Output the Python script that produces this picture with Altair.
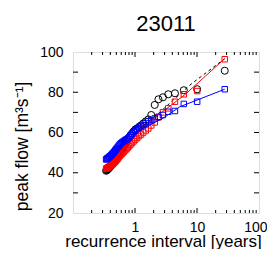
import altair as alt
import pandas as pd

# recurrence interval [years] for each rank (shared by all series)
T = [28.0, 10.06, 6.13, 4.41, 3.44, 2.82, 2.39, 2.08, 1.83, 1.64,
     1.49, 1.36, 1.25, 1.16, 1.08, 1.01, 0.948, 0.894, 0.846, 0.803,
     0.764, 0.728, 0.696, 0.666, 0.639, 0.614, 0.591, 0.570, 0.550, 0.531,
     0.514, 0.497, 0.482, 0.467, 0.454, 0.441, 0.429, 0.417, 0.406, 0.395,
     0.385, 0.376, 0.367, 0.358, 0.350, 0.342]

obs = [90.7, 81.5, 81.0, 79.5, 79.0, 77.5, 76.5, 73.7, 68.7, 66.5,
       65.5, 64.5, 63.5, 62.8, 62.0, 61.5, 60.5, 59.5, 58.5, 57.5,
       56.5, 55.5, 54.5, 53.5, 52.5, 51.8, 51.0, 50.2, 49.5, 48.8,
       48.0, 47.3, 46.6, 46.0, 45.4, 44.8, 44.3, 43.8, 43.3, 42.9,
       42.5, 42.1, 41.8, 41.5, 41.2, 41.0]

red = [96.4, 80.6, 79.0, 75.3, 72.0, 70.0, 67.5, 65.0, 63.5, 62.0,
       61.0, 60.0, 59.0, 58.2, 57.3, 56.5, 55.6, 54.8, 54.0, 53.2,
       52.5, 51.8, 51.2, 50.6, 50.0, 49.5, 49.0, 48.4, 47.8, 47.2,
       46.6, 46.1, 45.6, 45.2, 44.8, 44.4, 44.1, 43.8, 43.5, 43.2,
       43.0, 42.8, 42.6, 42.4, 42.2, 42.0]

blue = [81.5, 75.3, 74.2, 70.7, 70.3, 68.7, 67.8, 67.0, 66.2, 65.5,
        64.5, 63.6, 63.0, 62.3, 61.8, 61.0, 60.2, 59.3, 58.5, 57.6,
        57.0, 56.6, 56.2, 55.8, 55.4, 55.0, 54.6, 54.1, 53.5, 52.9,
        52.3, 51.7, 51.2, 50.6, 50.1, 49.7, 49.3, 48.9, 48.5, 48.2,
        47.9, 47.6, 47.3, 47.1, 46.9, 46.6]

# fitted curves
fit_obs_T = [1.0, 2.5, 7.7, 28.0]
fit_obs_v = [60.0, 70.0, 83.6, 96.7]
fit_red_T = [1.0, 2.7, 6.5, 28.0]
fit_red_v = [60.0, 70.0, 79.0, 96.7]
fit_blue_T = [1.0, 2.8, 5.3, 28.0]
fit_blue_v = [60.0, 67.0, 72.8, 81.5]

# tick positions
x_major = [1, 10]
x_minor = [0.2, 0.3, 0.4, 0.5, 0.6, 0.7, 0.8, 0.9,
           2, 3, 4, 5, 6, 7, 8, 9,
           20, 30, 40, 50, 60, 70, 80, 90]
y_ticks = [30, 40, 50, 60, 70, 80, 90]
x_labels = [1, 10, 100]
y_labels = [20, 40, 60, 80, 100]

W, H = 186, 161
FONT = "Liberation Sans"

xscale = alt.Scale(type="log", domain=[0.1, 100], nice=False)
yscale = alt.Scale(domain=[20, 100], nice=False, zero=False)

xaxis = alt.Axis(values=x_labels, format="d", ticks=False, domain=False, grid=False,
                 labelFlush=True, labelFlushOffset=8, labelOverlap=False, labelPadding=7,
                 labelFont=FONT, labelFontSize=14, labelColor="black",
                 title="recurrence interval [years]", titleFont=FONT,
                 titleFontSize=17, titleFontWeight="normal", titleColor="black",
                 titleX=90, titleY=33, titleBaseline="alphabetic", titleAlign="center")
yaxis = alt.Axis(values=y_labels, ticks=False, domain=False, grid=False,
                 labelFlush=False, labelOverlap=False, labelPadding=10,
                 labelFont=FONT, labelFontSize=14, labelColor="black",
                 title="peak flow [m³s⁻¹]", titleFont=FONT, titleFontSize=17.5,
                 titleFontWeight="normal", titleColor="black", titleAngle=270,
                 titleX=-46, titleY=94, titleBaseline="alphabetic", titleAlign="center")


def X(field):
    return alt.X(field, type="quantitative", scale=xscale, axis=xaxis)


def Y(field):
    return alt.Y(field, type="quantitative", scale=yscale, axis=yaxis)


df_obs = pd.DataFrame({"T": T, "v": obs})
df_red = pd.DataFrame({"T": T, "v": red})
df_blue = pd.DataFrame({"T": T, "v": blue})
fo = pd.DataFrame({"T": fit_obs_T, "v": fit_obs_v})
fr = pd.DataFrame({"T": fit_red_T, "v": fit_red_v})
fb = pd.DataFrame({"T": fit_blue_T, "v": fit_blue_v})

pts_obs = alt.Chart(df_obs).mark_point(shape="circle", filled=False, color="black",
                                       size=50, strokeWidth=1, opacity=1).encode(x=X("T"), y=Y("v"))
line_obs = alt.Chart(fo).mark_line(color="black", strokeWidth=1, strokeDash=[3, 3]).encode(x=X("T"), y=Y("v"))
pts_red = alt.Chart(df_red).mark_point(shape="square", filled=False, color="#ff0000",
                                       size=30, strokeWidth=1, opacity=1).encode(x=X("T"), y=Y("v"))
line_red = alt.Chart(fr).mark_line(color="#ff0000", strokeWidth=1).encode(x=X("T"), y=Y("v"))
pts_blue = alt.Chart(df_blue).mark_point(shape="square", filled=False, color="#0000ff",
                                         size=30, strokeWidth=1, opacity=1).encode(x=X("T"), y=Y("v"))
line_blue = alt.Chart(fb).mark_line(color="#0000ff", strokeWidth=1).encode(x=X("T"), y=Y("v"))

dxM = pd.DataFrame({"T": x_major})
dxm = pd.DataFrame({"T": x_minor})
dy = pd.DataFrame({"v": y_ticks})

tick_style = dict(color="black", strokeWidth=1)
ticks = [
    alt.Chart(dxM).mark_rule(**tick_style).encode(x=X("T"), y=alt.value(H), y2=alt.value(H - 5)),
    alt.Chart(dxM).mark_rule(**tick_style).encode(x=X("T"), y=alt.value(0), y2=alt.value(5)),
    alt.Chart(dxm).mark_rule(**tick_style).encode(x=X("T"), y=alt.value(H), y2=alt.value(H - 3)),
    alt.Chart(dxm).mark_rule(**tick_style).encode(x=X("T"), y=alt.value(0), y2=alt.value(3)),
    alt.Chart(dy).mark_rule(**tick_style).encode(y=Y("v"), x=alt.value(0), x2=alt.value(5)),
    alt.Chart(dy).mark_rule(**tick_style).encode(y=Y("v"), x=alt.value(W), x2=alt.value(W - 5)),
]

chart = alt.layer(
    *ticks, pts_obs, line_obs, pts_red, line_red, pts_blue, line_blue
).properties(
    width=W, height=H,
    title=alt.TitleParams("23011", font=FONT, fontSize=22, fontWeight="normal",
                          color="black", anchor="middle", frame="group", offset=9),
    autosize=alt.AutoSizeParams(type="none"),
    padding={"left": 65, "top": 44, "right": 8, "bottom": 36},
).configure_view(stroke="black", strokeWidth=1).configure(background="white")

chart.save("out.html", embed_options={"renderer": "svg", "actions": False})
